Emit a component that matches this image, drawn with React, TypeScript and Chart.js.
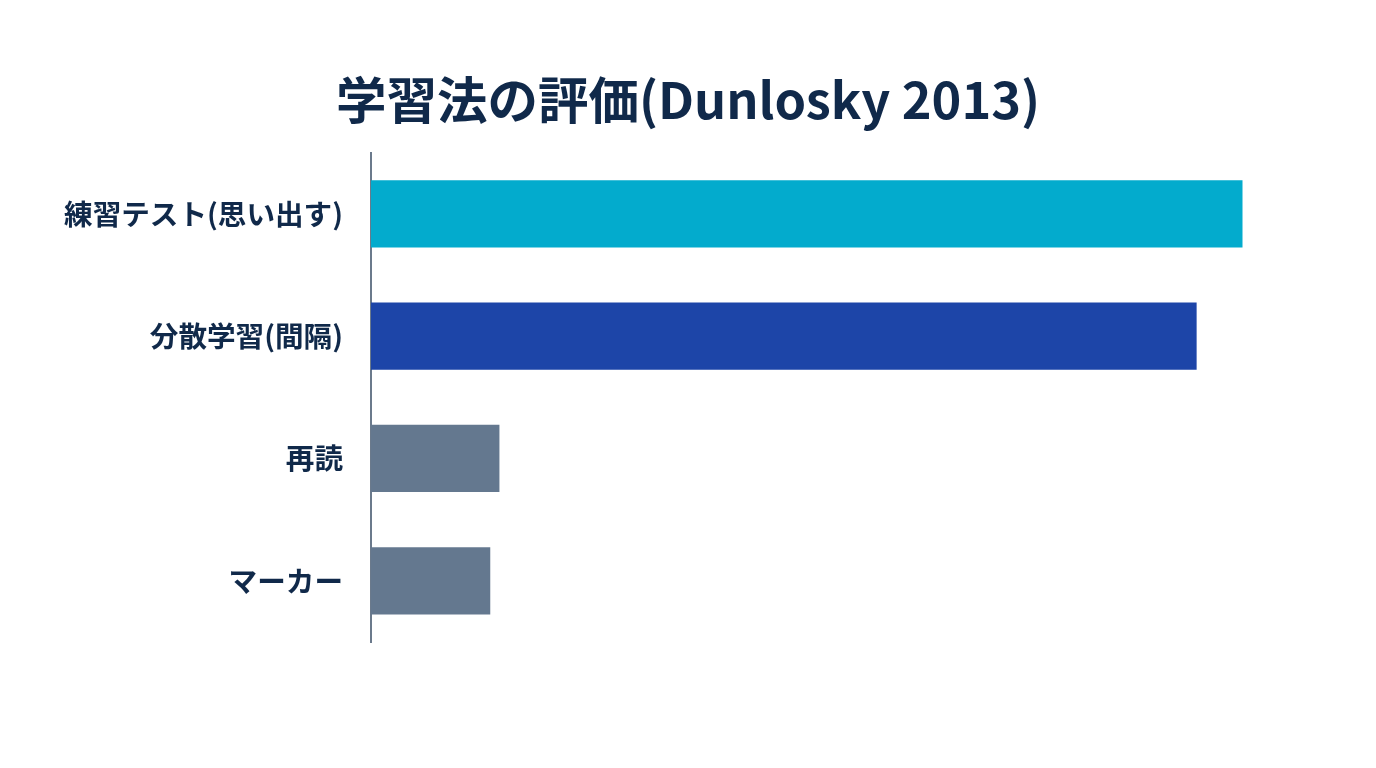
import React, { useEffect, useRef } from "react";
import { Chart, registerables } from "chart.js";

Chart.register(...registerables);

const categories = ["練習テスト(思い出す)", "分散学習(間隔)", "再読", "マーカー"];
const scores = [95, 90, 14, 13];
const barColors = ["#03abcd", "#1d45a8", "#64788f", "#64788f"];
const titleText = "学習法の評価(Dunlosky 2013)";
const xMax = 106.5;

const FONT = "'Noto Sans CJK JP', 'Noto Sans', sans-serif";
const TEXT = "#10294a";

export default function App() {
  const ref = useRef<HTMLCanvasElement | null>(null);
  useEffect(() => {
    if (!ref.current) return;
    const chart = new Chart(ref.current, {
      type: "bar",
      data: {
        labels: categories,
        datasets: [
          {
            data: scores,
            backgroundColor: barColors,
            borderWidth: 0,
            categoryPercentage: 1,
            barPercentage: 0.55,
          },
        ],
      },
      options: {
        indexAxis: "y",
        animation: false,
        responsive: false,
        maintainAspectRatio: false,
        layout: { padding: { left: 20, right: 20, top: 0, bottom: 118 } },
        plugins: {
          legend: { display: false },
          tooltip: { enabled: false },
          title: {
            display: true,
            text: titleText,
            color: TEXT,
            font: { family: FONT, size: 50.5, weight: "bold", lineHeight: 1.2 },
            padding: { top: 62, bottom: 22 },
          },
        },
        scales: {
          x: {
            display: false,
            min: 0,
            max: xMax,
          },
          y: {
            grid: { display: false, drawTicks: false },
            border: { display: true, color: "#6b7a8c", width: 2 },
            ticks: {
              color: TEXT,
              padding: 28,
              font: { family: FONT, size: 28.6, weight: "bold" },
            },
            afterFit: (scale: any) => {
              scale.width = 343;
            },
          },
        },
      },
    });
    return () => chart.destroy();
  }, []);
  return (
    <div style={{ width: 1360, height: 752 }}>
      <canvas ref={ref} width={1360} height={752} style={{ display: "block" }} />
    </div>
  );
}
